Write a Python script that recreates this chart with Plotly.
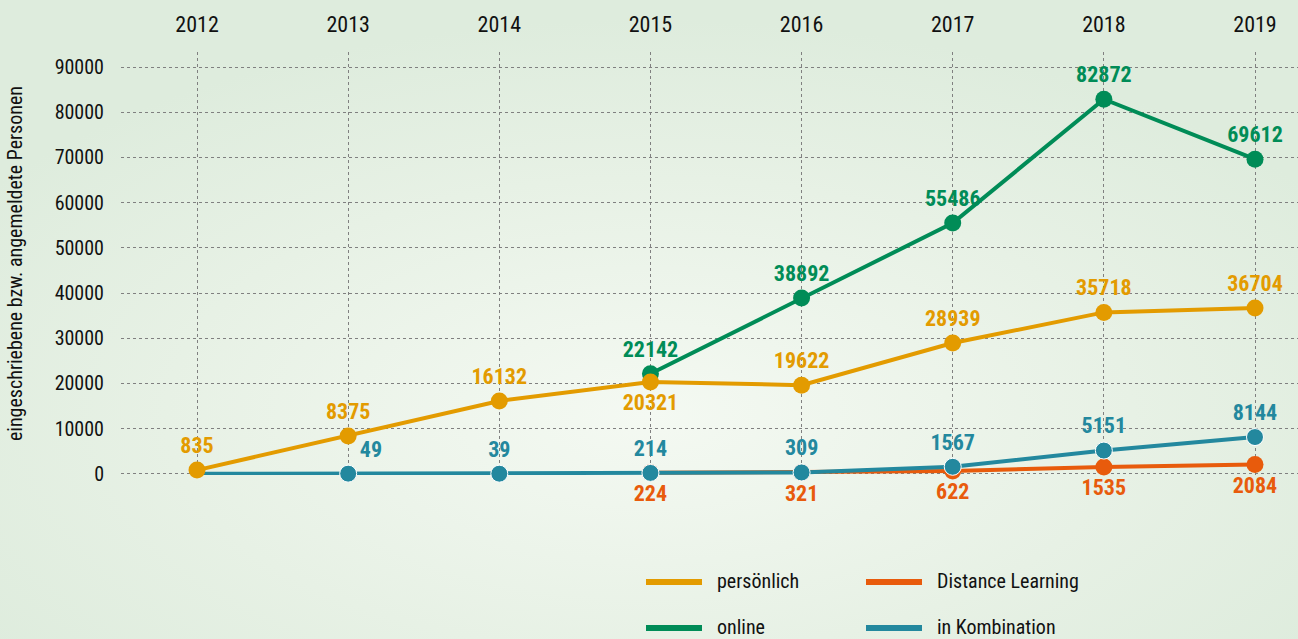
import base64
import plotly.graph_objects as go

years = [2012, 2013, 2014, 2015, 2016, 2017, 2018, 2019]

pers_years = [2012, 2013, 2014, 2015, 2016, 2017, 2018, 2019]
pers_vals = [835, 8375, 16132, 20321, 19622, 28939, 35718, 36704]

online_years = [2015, 2016, 2017, 2018, 2019]
online_vals = [22142, 38892, 55486, 82872, 69612]

dist_years = [2015, 2016, 2017, 2018, 2019]
dist_vals = [224, 321, 622, 1535, 2084]

komb_years = [2012, 2013, 2014, 2015, 2016, 2017, 2018, 2019]
komb_vals = [0, 49, 39, 214, 309, 1567, 5151, 8144]
komb_labels = ["", "49", "39", "214", "309", "1567", "5151", "8144"]

y_ticks = [0, 10000, 20000, 30000, 40000, 50000, 60000, 70000, 80000, 90000]

C_PERS = "#E39B00"
C_ONLINE = "#008C57"
C_DIST = "#E85B0C"
C_KOMB = "#23889E"

FONT = "Roboto Condensed, Liberation Sans Narrow, Arial Narrow, DejaVu Sans Condensed, sans-serif"

fig = go.Figure()

def add(name, xs, ys, color, labels, positions, sizes=17):
    fig.add_trace(go.Scatter(
        x=xs, y=ys, name=name, mode="lines+markers+text",
        line=dict(color=color, width=4),
        marker=dict(color=color, size=sizes, opacity=1),
        text=labels, textposition=positions,
        textfont=dict(family=FONT, size=22, color=color, weight="bold"),
        cliponaxis=False, showlegend=False,
        hoverinfo="x+y+name",
    ))

add("Distance Learning", dist_years, dist_vals, C_DIST,
    [str(v) for v in dist_vals], "bottom center")
add("in Kombination", komb_years, komb_vals, C_KOMB, komb_labels,
    ["top center", "top right"] + ["top center"] * 6,
    [0, 17, 17, 17, 17, 17, 17, 17])
add("online", online_years, online_vals, C_ONLINE,
    [str(v) for v in online_vals], "top center")
add("persönlich", pers_years, pers_vals, C_PERS,
    [str(v) for v in pers_vals],
    ["top center", "top center", "top center", "bottom center",
     "top center", "top center", "top center", "top center"])

# legend drawn as line swatches + text (pixel layout -> paper coords)
PLOT_L, PLOT_W, PLOT_B, PLOT_H = 121, 1177, 475, 423
def px_x(px):
    return (px - PLOT_L) / PLOT_W
def px_y(py):
    return (PLOT_B - py) / PLOT_H

legend_items = [("persönlich", C_PERS, 646, 582),
                ("online", C_ONLINE, 646, 628),
                ("Distance Learning", C_DIST, 866, 582),
                ("in Kombination", C_KOMB, 866, 628)]
shapes = []
annotations = []
for name, color, lx, ly in legend_items:
    shapes.append(dict(type="line", xref="paper", yref="paper",
                       x0=px_x(lx), x1=px_x(lx + 56), y0=px_y(ly), y1=px_y(ly),
                       line=dict(color=color, width=6)))
    annotations.append(dict(text=name, xref="paper", yref="paper",
                            x=px_x(lx + 69), y=px_y(ly - 1),
                            xanchor="left", yanchor="middle", showarrow=False,
                            font=dict(family=FONT, size=20, color="#111")))

svg = """<svg xmlns='http://www.w3.org/2000/svg' width='1298' height='639'>
<defs><radialGradient id='g' cx='50%' cy='65%' r='62%'>
<stop offset='0%' stop-color='#F4F9F2'/>
<stop offset='60%' stop-color='#E7F1E5'/>
<stop offset='100%' stop-color='#DEECDD'/>
</radialGradient></defs>
<rect width='1298' height='639' fill='url(#g)'/></svg>"""
src = "data:image/svg+xml;base64," + base64.b64encode(svg.encode()).decode()

fig.update_layout(
    width=1298, height=639,
    margin=dict(l=121, r=0, t=52, b=164),
    paper_bgcolor="#DFEDDF",
    plot_bgcolor="rgba(0,0,0,0)",
    showlegend=False,
    shapes=shapes,
    annotations=annotations,
    images=[dict(source=src, xref="paper", yref="paper",
                 x=-121/1177, y=1 + 52/423,
                 sizex=1298/1177, sizey=639/423,
                 xanchor="left", yanchor="top",
                 sizing="stretch", layer="below")],
    xaxis=dict(
        side="top", range=[2011.497, 2019.2845], tickvals=years,
        showgrid=True, gridcolor="#808080", griddash="dot", gridwidth=1,
        zeroline=False, showline=False,
        ticks="outside", ticklen=10, tickcolor="rgba(0,0,0,0)",
        tickfont=dict(family=FONT, size=22, color="#111"),
    ),
    yaxis=dict(
        range=[-250, 93317], tickvals=y_ticks,
        ticktext=[str(v) for v in y_ticks],
        showgrid=True, gridcolor="#808080", griddash="dot", gridwidth=1,
        zeroline=False, showline=False,
        ticks="outside", ticklen=12, tickcolor="rgba(0,0,0,0)",
        tickfont=dict(family=FONT, size=20, color="#111"),
        title=dict(text="eingeschriebene bzw. angemeldete Personen",
                   font=dict(family=FONT, size=20, color="#111"),
                   standoff=26),
    ),
)

fig.write_html("out.html")
